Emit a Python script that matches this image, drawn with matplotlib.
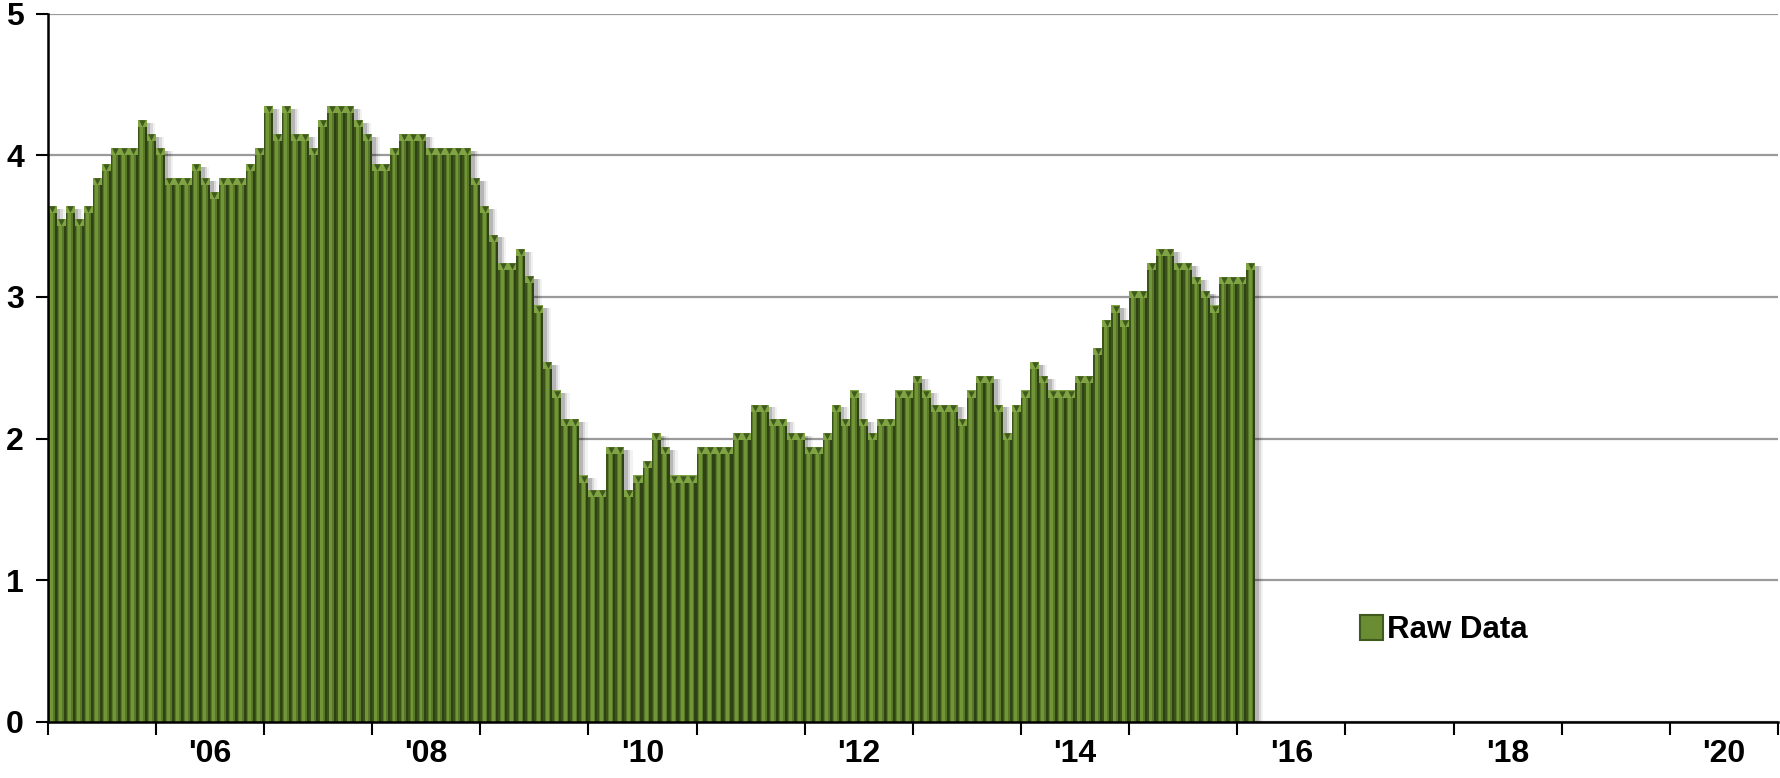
import matplotlib
matplotlib.use("Agg")
import matplotlib.pyplot as plt
import numpy as np
from matplotlib.patches import Patch

# ---- data (monthly, Jan 2005 .. Feb 2016) ----
start_year = 2005
values = [
    3.64, 3.55, 3.64, 3.55, 3.64, 3.84, 3.94, 4.05, 4.05, 4.05, 4.25, 4.15,
    4.05, 3.84, 3.84, 3.84, 3.94, 3.84, 3.74, 3.84, 3.84, 3.84, 3.94, 4.05,
    4.35, 4.15, 4.35, 4.15, 4.15, 4.05, 4.25, 4.35, 4.35, 4.35, 4.25, 4.15,
    3.94, 3.94, 4.05, 4.15, 4.15, 4.15, 4.05, 4.05, 4.05, 4.05, 4.05, 3.84,
    3.64, 3.44, 3.24, 3.24, 3.34, 3.15, 2.94, 2.54, 2.34, 2.14, 2.14, 1.74,
    1.64, 1.64, 1.94, 1.94, 1.64, 1.74, 1.84, 2.04, 1.94, 1.74, 1.74, 1.74,
    1.94, 1.94, 1.94, 1.94, 2.04, 2.04, 2.24, 2.24, 2.14, 2.14, 2.04, 2.04,
    1.94, 1.94, 2.04, 2.24, 2.14, 2.34, 2.14, 2.04, 2.14, 2.14, 2.34, 2.34,
    2.44, 2.34, 2.24, 2.24, 2.24, 2.14, 2.34, 2.44, 2.44, 2.24, 2.04, 2.24,
    2.34, 2.54, 2.44, 2.34, 2.34, 2.34, 2.44, 2.44, 2.64, 2.84, 2.94, 2.84,
    3.04, 3.04, 3.24, 3.34, 3.34, 3.24, 3.24, 3.14, 3.04, 2.94, 3.14, 3.14,
    3.14, 3.24,
]
axis_years = list(range(2005, 2021))
year_labels = ["'06", "'08", "'10", "'12", "'14", "'16", "'18", "'20"]
label_years = [2006, 2008, 2010, 2012, 2014, 2016, 2018, 2020]
y_ticks = [0, 1, 2, 3, 4, 5]
series_name = "Raw Data"

FONT = ["Liberation Sans Narrow", "Liberation Sans", "DejaVu Sans"]
plt.rcParams["font.family"] = FONT

vals = np.array(values)
x = np.arange(len(vals)) + 0.5  # month centres, months since Jan 2005

fig = plt.figure(figsize=(17.81, 7.78), dpi=100)
ax = fig.add_axes([0.0268, 0.072, 0.9715, 0.9105])

# soft drop shadow
for off, a in [(0.9, 0.05), (0.65, 0.10), (0.4, 0.16)]:
    ax.bar(x + off, vals - 0.02, width=1.0, color="#000000", alpha=a,
           linewidth=0, zorder=1)
# bar body
ax.bar(x, vals, width=1.0, color="#587828", linewidth=0, zorder=2)
ax.bar(x - 0.42, vals, width=0.16, color="#3b5218", linewidth=0, zorder=3)
ax.bar(x - 0.08, vals, width=0.32, color="#729538", linewidth=0, zorder=3)
ax.bar(x + 0.38, vals, width=0.24, color="#2f4216", linewidth=0, zorder=3)
# bevelled top
ax.bar(x, np.full_like(vals, 0.05), bottom=vals - 0.05, width=1.0,
       color="#80a344", linewidth=0, zorder=4)
ax.scatter(x, vals - 0.022, marker="v", s=22, color="#3f5a1c",
           linewidths=0, zorder=5)

ax.set_xlim(0, 12 * len(axis_years))
ax.set_ylim(0, 5)

# grid
ax.set_yticks(y_ticks)
ax.yaxis.grid(True, color="#9a9a9a", linewidth=1.6, zorder=0)
ax.set_axisbelow(True)

# x ticks: year boundaries (no labels), labels centred on even years
ax.set_xticks([12 * (yr - start_year) for yr in axis_years] + [12 * len(axis_years)])
ax.set_xticklabels([])
ax.set_xticks([12 * (yr - start_year) + 6 for yr in label_years], minor=True)
ax.set_xticklabels(year_labels, minor=True)
ax.tick_params(axis="x", which="major", length=9, width=1.5, color="black",
               direction="out")
ax.tick_params(axis="x", which="minor", length=0, pad=12, labelsize=23)
ax.tick_params(axis="y", length=9, width=1.5, direction="out", pad=8,
               labelsize=23)
for lab in ax.get_xticklabels(minor=True) + ax.get_yticklabels():
    lab.set_fontweight("bold")

for s in ["top", "right"]:
    ax.spines[s].set_visible(False)
for s in ["left", "bottom"]:
    ax.spines[s].set_linewidth(1.8)
    ax.spines[s].set_color("black")
    ax.spines[s].set_zorder(6)

handle = Patch(facecolor="#6a8c32", edgecolor="#3f5a1c", linewidth=1.5)
leg = ax.legend([handle], [series_name], loc="center left",
                bbox_to_anchor=(0.742, 0.13), frameon=False,
                handlelength=0.75, handleheight=0.85, handletextpad=0.12,
                prop={"family": FONT, "weight": "bold", "size": 22.5})

fig.savefig("out.png", dpi=100, facecolor="white")
